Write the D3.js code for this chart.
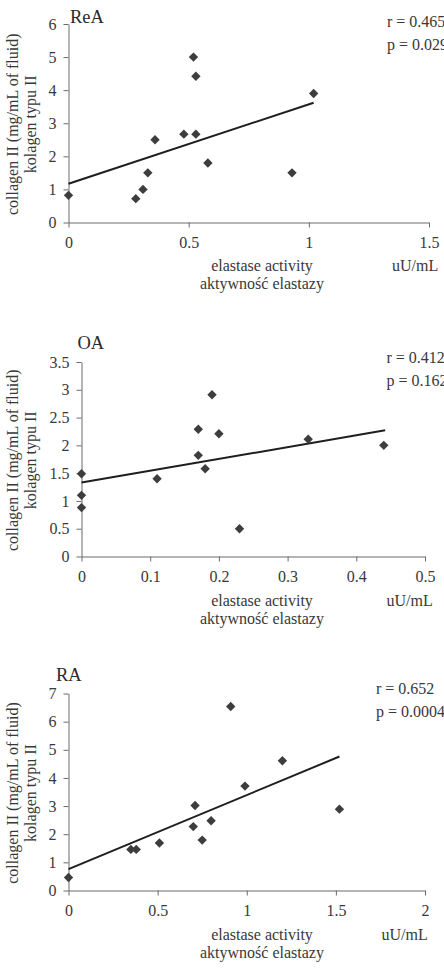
<!DOCTYPE html>
<html lang="pl">
<head>
  <meta charset="UTF-8">
  <title>collagen II vs elastase activity</title>
  <script src="https://d3js.org/d3.v7.min.js"></script>
  <style>
    body {
      margin: 0;
      background: #fff;
      overflow: hidden;
    }

    svg {
      display: block;
      font-family: 'Liberation Serif', 'Times New Roman', serif;
    }

    .axis path,
    .axis line {
      stroke: #6a6a6a;
      stroke-width: 1px;
    }

    .axis text {
      font-size: 16px;
      fill: #383838;
      font-family: 'Liberation Serif', serif;
    }

    .lbl {
      font-size: 16px;
      fill: #383838;
    }

    .title {
      font-size: 18.5px;
      fill: #2a2a2a;
    }

    .trend {
      fill: none;
      stroke: #1e1e1e;
      stroke-width: 2px;
    }

    .pt {
      fill: #3d3d3d;
    }
  </style>
</head>
<body>

<svg width="444" height="974"></svg>

<script>
// ---- data ----
const panelNames = ["ReA", "OA", "RA"];
const statsR = ["r = 0.465", "r = 0.412", "r = 0.652"];
const statsP = ["p = 0.029", "p = 0.162", "p = 0.0004"];

const reaX = [0, 0.28, 0.31, 0.33, 0.36, 0.48, 0.53, 0.52, 0.53, 0.58, 0.93, 1.02];
const reaY = [0.82, 0.72, 1.0, 1.5, 2.5, 2.67, 2.67, 5.0, 4.42, 1.8, 1.5, 3.9];

const oaX = [0, 0, 0, 0.11, 0.17, 0.17, 0.18, 0.19, 0.2, 0.23, 0.33, 0.44];
const oaY = [1.49, 1.1, 0.88, 1.4, 2.29, 1.82, 1.58, 2.91, 2.21, 0.5, 2.11, 2.0];

const raX = [0, 0.35, 0.38, 0.51, 0.7, 0.71, 0.75, 0.8, 0.91, 0.99, 1.2, 1.52];
const raY = [0.46, 1.46, 1.46, 1.69, 2.27, 3.02, 1.79, 2.48, 6.54, 3.71, 4.61, 2.89];

// trend line end points [x0, y0, x1, y1]
const reaTrend = [0, 1.17, 1.02, 3.62];
const oaTrend = [0, 1.33, 0.442, 2.27];
const raTrend = [0, 0.76, 1.52, 4.76];

const reaXTicks = [0, 0.5, 1, 1.5];
const reaYTicks = [0, 1, 2, 3, 4, 5, 6];
const oaXTicks = [0, 0.1, 0.2, 0.3, 0.4, 0.5];
const oaYTicks = [0, 0.5, 1, 1.5, 2, 2.5, 3, 3.5];
const raXTicks = [0, 0.5, 1, 1.5, 2];
const raYTicks = [0, 1, 2, 3, 4, 5, 6, 7];

const xLabel1 = "elastase activity";
const xLabel2 = "aktywność elastazy";
const unitLabel = "uU/mL";
const yLabel1 = "collagen II (mg/mL of fluid)";
const yLabel2 = "kolagen typu II";

// ---- layout of each panel (pixels) ----
const panels = [
  { xs: reaX, ys: reaY, trend: reaTrend, xt: reaXTicks, yt: reaYTicks,
    left: 68.5, right: 429, top: 24, bottom: 222.5, titleX: 70, titleY: 23,
    statX: 387, statY: 27, xlabY: 271, unitX: 392 },
  { xs: oaX, ys: oaY, trend: oaTrend, xt: oaXTicks, yt: oaYTicks,
    left: 81.5, right: 425, top: 362, bottom: 556.5, titleX: 77.5, titleY: 348.5,
    statX: 386.5, statY: 362.5, xlabY: 606, unitX: 386.5 },
  { xs: raX, ys: raY, trend: raTrend, xt: raXTicks, yt: raYTicks,
    left: 68.5, right: 425, top: 693.5, bottom: 890.5, titleX: 56, titleY: 681,
    statX: 376, statY: 693.5, xlabY: 940, unitX: 381.5 }
];

const svg = d3.select("svg");

panels.forEach((p, i) => {
  const g = svg.append("g");

  const x = d3.scaleLinear()
    .domain(d3.extent(p.xt))
    .range([p.left, p.right]);

  const y = d3.scaleLinear()
    .domain(d3.extent(p.yt))
    .range([p.bottom, p.top]);

  // axes
  g.append("g")
    .attr("class", "axis")
    .attr("transform", `translate(0,${p.bottom})`)
    .call(d3.axisBottom(x).tickValues(p.xt).tickFormat(d => String(d))
      .tickSizeInner(5).tickSizeOuter(0).tickPadding(9));

  g.append("g")
    .attr("class", "axis")
    .attr("transform", `translate(${p.left},0)`)
    .call(d3.axisLeft(y).tickValues(p.yt).tickFormat(d => String(d))
      .tickSizeInner(5).tickSizeOuter(0).tickPadding(7));

  // trend line
  const t = p.trend;
  g.append("path")
    .attr("class", "trend")
    .attr("d", d3.line()([[x(t[0]), y(t[1])], [x(t[2]), y(t[3])]]));

  // points (diamonds)
  const diamond = d3.symbol().type(d3.symbolSquare).size(44);
  g.selectAll(".pt")
    .data(d3.zip(p.xs, p.ys))
    .join("path")
    .attr("class", "pt")
    .attr("d", diamond)
    .attr("transform", d => `translate(${x(d[0])},${y(d[1])}) rotate(45)`);

  // title
  g.append("text")
    .attr("class", "title")
    .attr("x", p.titleX)
    .attr("y", p.titleY)
    .text(panelNames[i]);

  // r / p
  g.append("text")
    .attr("class", "lbl")
    .attr("x", p.statX)
    .attr("y", p.statY)
    .text(statsR[i]);
  g.append("text")
    .attr("class", "lbl")
    .attr("x", p.statX)
    .attr("y", p.statY + 23)
    .text(statsP[i]);

  // x labels
  g.append("text")
    .attr("class", "lbl")
    .attr("x", 262)
    .attr("y", p.xlabY)
    .attr("text-anchor", "middle")
    .text(xLabel1);
  g.append("text")
    .attr("class", "lbl")
    .attr("x", 262)
    .attr("y", p.xlabY + 18)
    .attr("text-anchor", "middle")
    .text(xLabel2);
  g.append("text")
    .attr("class", "lbl")
    .attr("x", p.unitX)
    .attr("y", p.xlabY)
    .text(unitLabel);

  // y labels
  const cy = (p.top + p.bottom) / 2 + 1;
  g.append("text")
    .attr("class", "lbl")
    .attr("text-anchor", "middle")
    .attr("transform", `translate(18,${cy}) rotate(-90)`)
    .text(yLabel1);
  g.append("text")
    .attr("class", "lbl")
    .attr("text-anchor", "middle")
    .attr("transform", `translate(36,${cy}) rotate(-90)`)
    .text(yLabel2);
});
</script>

</body>
</html>
